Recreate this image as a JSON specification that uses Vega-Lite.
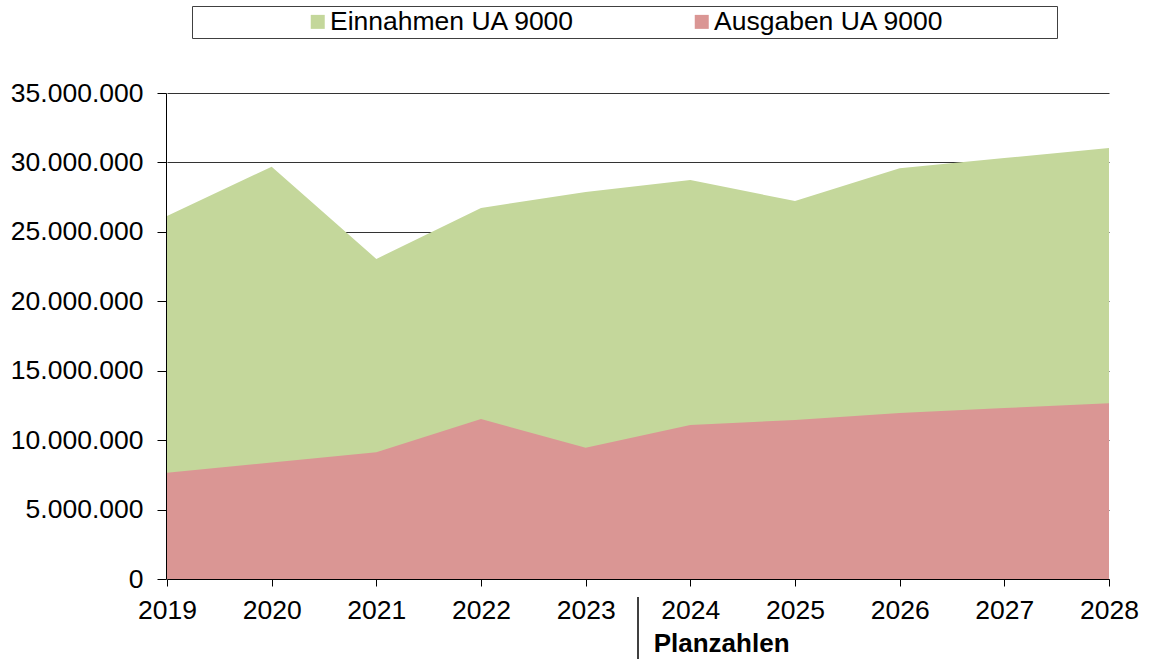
{
  "$schema": "https://vega.github.io/schema/vega-lite/v6.json",
  "width": 942,
  "height": 486,
  "autosize": "none",
  "padding": {"left": 167, "top": 93, "right": 44, "bottom": 80},
  "background": "white",
  "config": {
    "locale": {"number": {"decimal": ",", "thousands": ".", "grouping": [3], "currency": ["", " €"]}},
    "font": "Liberation Sans",
    "view": {"stroke": null}
  },
  "datasets": {
    "series": [
      {"year": 2019, "series": "Einnahmen UA 9000", "value": 26140000},
      {"year": 2020, "series": "Einnahmen UA 9000", "value": 29690000},
      {"year": 2021, "series": "Einnahmen UA 9000", "value": 23050000},
      {"year": 2022, "series": "Einnahmen UA 9000", "value": 26720000},
      {"year": 2023, "series": "Einnahmen UA 9000", "value": 27870000},
      {"year": 2024, "series": "Einnahmen UA 9000", "value": 28730000},
      {"year": 2025, "series": "Einnahmen UA 9000", "value": 27220000},
      {"year": 2026, "series": "Einnahmen UA 9000", "value": 29580000},
      {"year": 2027, "series": "Einnahmen UA 9000", "value": 30310000},
      {"year": 2028, "series": "Einnahmen UA 9000", "value": 31040000},
      {"year": 2019, "series": "Ausgaben UA 9000", "value": 7660000},
      {"year": 2020, "series": "Ausgaben UA 9000", "value": 8390000},
      {"year": 2021, "series": "Ausgaben UA 9000", "value": 9120000},
      {"year": 2022, "series": "Ausgaben UA 9000", "value": 11520000},
      {"year": 2023, "series": "Ausgaben UA 9000", "value": 9460000},
      {"year": 2024, "series": "Ausgaben UA 9000", "value": 11090000},
      {"year": 2025, "series": "Ausgaben UA 9000", "value": 11450000},
      {"year": 2026, "series": "Ausgaben UA 9000", "value": 11960000},
      {"year": 2027, "series": "Ausgaben UA 9000", "value": 12310000},
      {"year": 2028, "series": "Ausgaben UA 9000", "value": 12650000}
    ],
    "divider": [{"year": 2023.5, "top": -1300000, "bottom": -5760000}],
    "note": [{"year": 2023.65, "value": -5240000, "text": "Planzahlen"}]
  },
  "layer": [
    {
      "data": {"name": "series"},
      "mark": {"type": "area", "opacity": 1},
      "encoding": {
        "x": {
          "field": "year", "type": "quantitative",
          "scale": {"domain": [2019, 2028], "nice": false, "zero": false},
          "axis": {
            "values": [2019, 2020, 2021, 2022, 2023, 2024, 2025, 2026, 2027, 2028],
            "format": "d", "title": null, "grid": false,
            "labelFontSize": 26.5, "labelColor": "black", "labelPadding": 11,
            "labelFlush": false, "labelOverlap": false,
            "tickSize": 7, "tickColor": "black", "domainColor": "black"
          }
        },
        "y": {
          "field": "value", "type": "quantitative", "stack": null,
          "scale": {"domain": [0, 35000000], "nice": false},
          "axis": {
            "values": [0, 5000000, 10000000, 15000000, 20000000, 25000000, 30000000, 35000000],
            "format": ",d", "title": null,
            "grid": true, "gridColor": "#333333", "gridWidth": 1,
            "labelFontSize": 26.5, "labelColor": "black", "labelPadding": 14,
            "tickSize": 9, "tickColor": "black", "domainColor": "black", "offset": 1
          }
        },
        "color": {
          "field": "series", "type": "nominal",
          "scale": {"domain": ["Einnahmen UA 9000", "Ausgaben UA 9000"], "range": ["#C4D79B", "#DA9694"]},
          "legend": {
            "orient": "none", "legendX": 25, "legendY": -87, "direction": "horizontal",
            "title": "\u00a0", "titleOrient": "left", "titlePadding": 110, "titleFontSize": 26.5,
            "symbolType": "square", "symbolSize": 196, "symbolStrokeWidth": 0, "symbolOpacity": 1,
            "labelFontSize": 26.5, "labelColor": "black", "labelOffset": -1, "labelLimit": 600,
            "columnPadding": 113, "padding": 2.5,
            "strokeColor": "#404040", "fillColor": "white",
            "labelExpr": "datum.index == 1 ? datum.label + '\u00a0\u00a0\u00a0\u00a0\u00a0\u00a0\u00a0\u00a0\u00a0\u00a0\u00a0\u00a0\u00a0\u00a0\u00a0\u200b' : datum.label"
          }
        }
      }
    },
    {
      "data": {"name": "divider"},
      "mark": {"type": "rule", "color": "black", "strokeWidth": 1.5},
      "encoding": {
        "x": {"field": "year", "type": "quantitative"},
        "y": {"field": "top", "type": "quantitative"},
        "y2": {"field": "bottom"}
      }
    },
    {
      "data": {"name": "note"},
      "mark": {"type": "text", "align": "left", "baseline": "alphabetic", "fontSize": 26, "fontWeight": "bold", "color": "black"},
      "encoding": {
        "x": {"field": "year", "type": "quantitative"},
        "y": {"field": "value", "type": "quantitative"},
        "text": {"field": "text"}
      }
    }
  ]
}
